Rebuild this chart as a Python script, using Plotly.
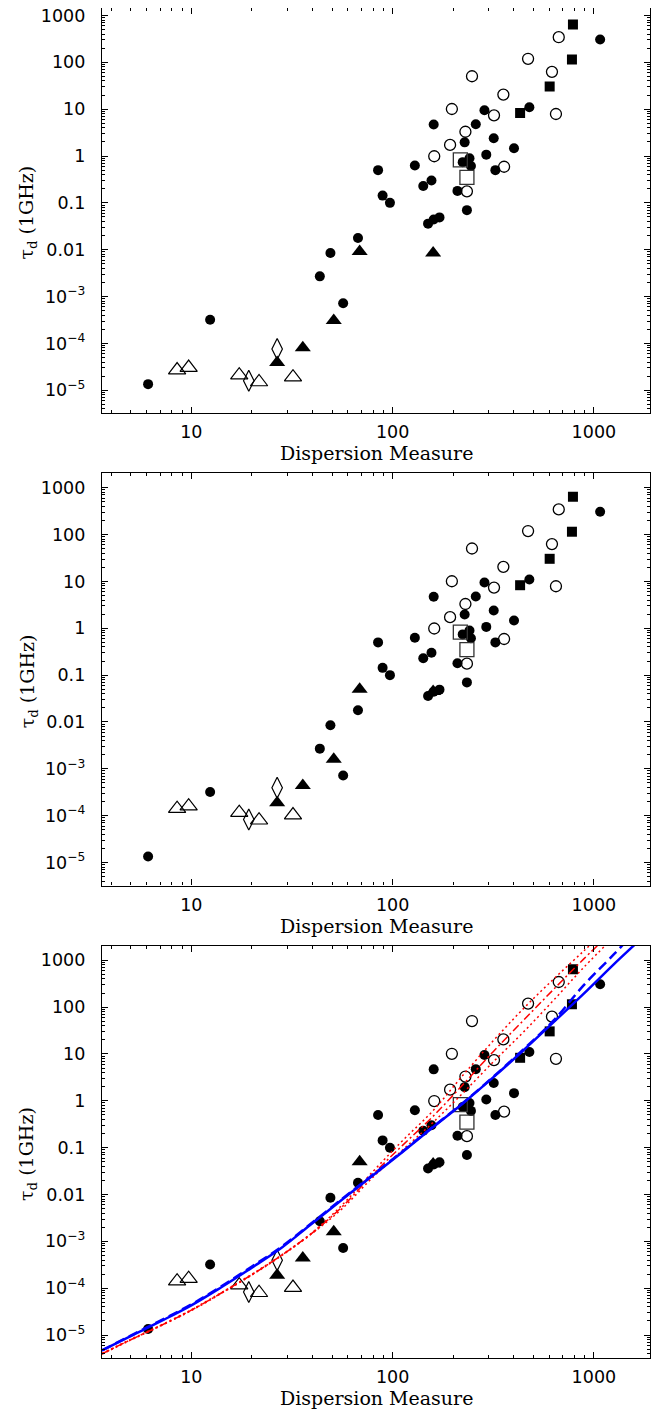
import math
import plotly.graph_objects as go

# ---------------- data ----------------
# filled circles (same in all panels)
FC_DM = [6.1, 12.4, 43.5, 49.1, 56.8, 67.3, 84.7, 89.2, 97, 129, 142, 156, 160,
         150, 160, 171, 210, 228, 223, 241, 245, 234, 259, 286, 292, 318, 324,
         401, 478, 1074]
FC_TAU = [1.35e-5, 3.2e-4, 2.7e-3, 8.5e-3, 7.2e-4, 0.0178, 0.50, 0.143, 0.10, 0.63,
          0.23, 0.30, 4.7, 0.036, 0.044, 0.049, 0.18, 1.96, 0.74, 0.90, 0.61, 0.070,
          4.75, 9.5, 1.07, 2.4, 0.50, 1.46, 11.0, 307]
# open circles
OC_DM = [161, 193, 197, 230, 234, 248, 319, 355, 358, 471, 619, 648, 669]
OC_TAU = [0.99, 1.73, 10.1, 3.3, 0.176, 50.5, 7.4, 20.5, 0.59, 119, 62.7, 7.9, 344]
# open squares
OS_DM = [217, 234]
OS_TAU = [0.83, 0.35]
# filled squares
FS_DM = [430, 603, 778, 787]
FS_TAU = [8.3, 30.4, 115, 643]

# filled triangles
FT_DM = [26.7, 35.8, 51, 68.6, 159]
FT_TAU_1 = [3.9e-5, 8.1e-5, 3.1e-4, 9.2e-3, 8.5e-3]
FT_TAU_2 = [1.9e-4, 4.4e-4, 1.6e-3, 0.050, 0.045]
# open triangles
OT_DM = [8.5, 9.7, 17.3, 21.7, 32]
OT_TAU_1 = [2.7e-5, 3.05e-5, 2.1e-5, 1.5e-5, 1.9e-5]
OT_TAU_2 = [1.41e-4, 1.6e-4, 1.16e-4, 8.0e-5, 1.03e-4]
# open diamonds
OD_DM = [19.3, 26.7]
OD_TAU_1 = [1.6e-5, 7.6e-5]
OD_TAU_2 = [8.3e-5, 3.95e-4]

# curves in the bottom panel
CURVE_DM = [3.6, 5.0, 7.1, 10, 14.1, 20, 28.2, 39.8, 56.2, 79.4, 112, 158, 224, 316,
            447, 631, 891, 1259, 1600, 1700]
BS_TAU = [4.7e-6, 9.5e-6, 2.0e-5, 4.3e-5, 1.05e-4, 2.75e-4, 7.4e-4, 2.4e-3,
          7.8e-3, 0.0251, 0.081, 0.269, 0.89, 3.16, 12.0, 47.9, 195, 832, 2190, 2820]
BD_DM = [3.6, 5.0, 7.1, 10, 14.1, 20, 28.2, 39.8, 56.2, 79.4, 112, 158, 224, 316,
         447, 631, 891, 1259, 1514]
BD_TAU = [4.7e-6, 9.7e-6, 2.08e-5, 4.5e-5, 1.1e-4, 2.9e-4, 7.8e-4, 2.5e-3, 8.1e-3,
          0.026, 0.083, 0.275, 0.91, 3.24, 12.6, 52, 295, 1350, 3160]
RA_DM = [3.6, 5.0, 7.1, 10, 14.1, 20, 28.2, 39.8, 56.2, 79.4, 112, 158, 224, 316,
         447, 631, 891, 1122]
RA_TAU = [4.05e-6, 8.1e-6, 1.65e-5, 3.46e-5, 8.06e-5, 1.99e-4, 5.2e-4, 1.53e-3, 6.0e-3,
          0.0302, 0.141, 0.603, 3.55, 19.1, 93.3, 398, 1585, 3980]
RB_DM = [3.6, 5.0, 7.1, 10, 14.1, 20, 28.2, 39.8, 56.2, 79.4, 112, 158, 224, 316,
         447, 631, 891, 1259]
RB_TAU = [3.98e-6, 7.94e-6, 1.62e-5, 3.39e-5, 7.9e-5, 1.95e-4, 5.1e-4, 1.5e-3, 5.5e-3,
          0.0263, 0.112, 0.457, 2.24, 11.2, 52.5, 240, 1072, 4470]
RC_DM = [3.6, 5.0, 7.1, 10, 14.1, 20, 28.2, 39.8, 56.2, 79.4, 112, 158, 224, 316,
         447, 631, 891, 1259]
RC_TAU = [3.9e-6, 7.78e-6, 1.59e-5, 3.32e-5, 7.74e-5, 1.91e-4, 5.0e-4, 1.47e-3, 5.0e-3,
          0.0229, 0.089, 0.339, 1.48, 6.76, 29.5, 141, 708, 3160]

Y_TICKVALS = [1e-5, 1e-4, 1e-3, 0.01, 0.1, 1, 10, 100, 1000]
Y_TICKTEXT = ["10<sup>\u22125</sup>", "10<sup>\u22124</sup>", "10<sup>\u22123</sup>",
              "0.01", "0.1", "1", "10", "100", "1000"]
X_TICKVALS = [10, 100, 1000]
X_TICKTEXT = ["10", "100", "1000"]
X_TITLE = "Dispersion Measure"
Y_TITLE = "\u03c4<sub>d</sub> (1GHz)"

# ---------------- figure ----------------
fig = go.Figure()

def add_points(i, ft_tau, ot_tau, od_tau):
    xa = "x" if i == 1 else f"x{i}"
    ya = "y" if i == 1 else f"y{i}"
    common = dict(mode="markers", xaxis=xa, yaxis=ya, showlegend=False, hoverinfo="skip")
    fig.add_trace(go.Scatter(x=FC_DM, y=FC_TAU, marker=dict(symbol="circle", size=10, color="black",
                             line=dict(width=0)), **common))
    fig.add_trace(go.Scatter(x=OC_DM, y=OC_TAU, marker=dict(symbol="circle-open", size=11, color="black",
                             line=dict(width=1.3)), **common))
    fig.add_trace(go.Scatter(x=OS_DM, y=OS_TAU, marker=dict(symbol="square-open", size=14, color="#333333",
                             line=dict(width=1.3)), **common))
    fig.add_trace(go.Scatter(x=FS_DM, y=FS_TAU, marker=dict(symbol="square", size=10, color="black",
                             line=dict(width=0)), **common))
    fig.add_trace(go.Scatter(x=FT_DM, y=ft_tau, marker=dict(symbol="triangle-up", size=14, color="black",
                             line=dict(width=0)), **common))
    fig.add_trace(go.Scatter(x=OT_DM, y=ot_tau, marker=dict(symbol="triangle-up-open", size=15, color="black",
                             line=dict(width=1.2)), **common))
    fig.add_trace(go.Scatter(x=OD_DM, y=od_tau, marker=dict(symbol="diamond-tall-open", size=15, color="black",
                             line=dict(width=1.2)), **common))

add_points(1, FT_TAU_1, OT_TAU_1, OD_TAU_1)
add_points(2, FT_TAU_2, OT_TAU_2, OD_TAU_2)
add_points(3, FT_TAU_2, OT_TAU_2, OD_TAU_2)

lc = dict(mode="lines", xaxis="x3", yaxis="y3", showlegend=False, hoverinfo="skip", line_shape="spline")
fig.add_trace(go.Scatter(x=RA_DM, y=RA_TAU, line=dict(color="red", width=1.5, dash="2px,3px"), **lc))
fig.add_trace(go.Scatter(x=RC_DM, y=RC_TAU, line=dict(color="red", width=1.5, dash="2px,3px"), **lc))
fig.add_trace(go.Scatter(x=RB_DM, y=RB_TAU, line=dict(color="red", width=1.5, dash="8px,3px,2px,3px"), **lc))
fig.add_trace(go.Scatter(x=BD_DM, y=BD_TAU, line=dict(color="blue", width=2.5, dash="10px,5px"), **lc))
fig.add_trace(go.Scatter(x=CURVE_DM, y=BS_TAU, line=dict(color="blue", width=2.5), **lc))

TICKFONT = dict(family="DejaVu Sans", size=17.5, color="black")
TITLEFONT = dict(family="DejaVu Serif", size=19, color="black")

# the page adds an 8px offset; geometry below compensates for it
domains = [[0.69985, 1.0], [0.35000, 0.65541], [0.0, 0.30534]]
yranges = [[-5.49, 3.16], [-5.49, 3.31], [-5.49, 3.31]]
layout = dict(
    width=651, height=1401,
    margin=dict(l=94, r=9, t=0, b=51, autoexpand=False),
    paper_bgcolor="white", plot_bgcolor="white",
    showlegend=False,
)
annotations = []
for i in range(1, 4):
    xk = "xaxis" if i == 1 else f"xaxis{i}"
    yk = "yaxis" if i == 1 else f"yaxis{i}"
    ya = "y" if i == 1 else f"y{i}"
    xa = "x" if i == 1 else f"x{i}"
    layout[xk] = dict(
        type="log", range=[math.log10(3.6), math.log10(1900)], anchor=ya, automargin=False,
        tickmode="array", tickvals=X_TICKVALS, ticktext=X_TICKTEXT,
        ticks="inside", ticklen=6, tickwidth=1.2, tickcolor="black",
        minor=dict(ticks="inside", ticklen=3, tickwidth=1, tickcolor="black", dtick="D1", showgrid=False),
        showline=True, linewidth=1.4, linecolor="black", mirror="allticks",
        showgrid=False, zeroline=False, tickfont=TICKFONT, ticklabelstandoff=3,
        ticklabeloverflow="allow",
    )
    layout[yk] = dict(
        type="log", range=yranges[i - 1], domain=domains[i - 1], anchor=xa, automargin=False,
        tickmode="array", tickvals=Y_TICKVALS, ticktext=Y_TICKTEXT,
        ticks="inside", ticklen=6, tickwidth=1.2, tickcolor="black",
        minor=dict(ticks="inside", ticklen=3, tickwidth=1, tickcolor="black", dtick="D1", showgrid=False),
        showline=True, linewidth=1.4, linecolor="black", mirror="allticks",
        showgrid=False, zeroline=False, tickfont=TICKFONT, ticklabelstandoff=12,
        ticklabeloverflow="allow",
    )
    annotations.append(dict(text=X_TITLE, xref=f"{xa} domain", yref=f"{ya} domain", x=0.5, y=0,
                            xanchor="center", yanchor="middle", yshift=-40, showarrow=False,
                            font=TITLEFONT))
    annotations.append(dict(text=Y_TITLE, xref=f"{xa} domain", yref=f"{ya} domain", x=0, y=0.5,
                            xanchor="center", yanchor="middle", xshift=-74, yshift=-2, textangle=-90,
                            showarrow=False, font=TITLEFONT))
layout["annotations"] = annotations
fig.update_layout(**layout)
fig.write_html("out.html")
